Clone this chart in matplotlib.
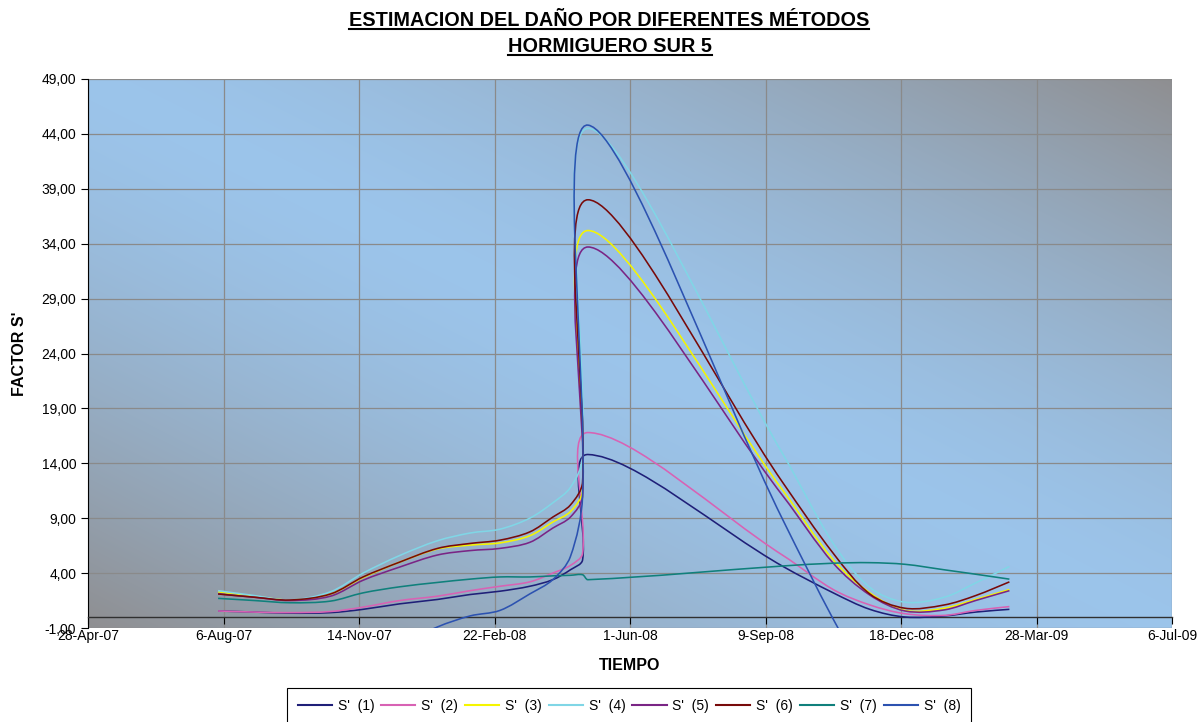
import datetime as dt

import numpy as np
import matplotlib
matplotlib.use("Agg")
import matplotlib.pyplot as plt
import matplotlib.dates as mdates
from matplotlib.path import Path
from matplotlib.patches import PathPatch
from matplotlib.lines import Line2D
from matplotlib.ticker import FuncFormatter

plt.rcParams['font.family'] = ['Liberation Sans', 'DejaVu Sans']

# sampling dates (shared by every series)
DATES = ["2007-08-02", "2007-08-29", "2007-09-24", "2007-10-24", "2007-11-17",
         "2007-12-14", "2008-01-11", "2008-02-04", "2008-02-26", "2008-03-19",
         "2008-04-05", "2008-04-18", "2008-04-27", "2008-05-01", "2008-09-22",
         "2008-10-29", "2008-11-25", "2008-12-21", "2009-01-19", "2009-02-11",
         "2009-03-08"]

S1 = [0.55, 0.45, 0.35, 0.40, 0.70, 1.20, 1.60, 2.05, 2.35, 2.80, 3.40, 4.30, 5.20, 14.8,
      4.60, 2.20, 0.70, 0.00, 0.10, 0.45, 0.70]
S2 = [0.55, 0.45, 0.40, 0.50, 0.90, 1.50, 1.90, 2.40, 2.80, 3.20, 4.00, 4.70, 5.80, 16.8,
      5.60, 2.50, 1.10, 0.30, 0.15, 0.60, 0.95]
S3 = [2.30, 1.90, 1.55, 2.10, 3.60, 5.00, 6.20, 6.55, 6.75, 7.40, 8.65, 9.60, 11.5, 35.2,
      11.5, 5.20, 2.20, 0.60, 0.80, 1.60, 2.50]
S4 = [2.40, 1.95, 1.55, 2.30, 4.00, 5.60, 6.95, 7.65, 8.00, 9.00, 10.4, 11.8, 14.5, 44.5,
      14.8, 6.70, 2.70, 1.35, 1.80, 3.10, 4.60]
S5 = [2.10, 1.80, 1.50, 1.90, 3.35, 4.55, 5.65, 6.05, 6.25, 6.80, 8.10, 9.10, 11.0, 33.7,
      11.0, 4.90, 2.00, 0.55, 0.65, 1.50, 2.40]
S6 = [2.10, 1.80, 1.55, 2.10, 3.65, 5.00, 6.25, 6.70, 7.00, 7.75, 9.10, 10.2, 12.3, 38.0,
      12.2, 5.80, 2.10, 0.80, 1.10, 1.95, 3.20]
S7 = [1.70, 1.50, 1.30, 1.45, 2.20, 2.75, 3.15, 3.45, 3.65, 3.65, 3.75, 3.80, 3.85, 3.40,
      4.65, 4.90, 4.95, 4.80, 4.30, 3.90, 3.45]
S8 = [-14.0, -11.0, -8.5, -6.0, -4.3, -2.6, -0.9, 0.1, 0.6, 2.1, 3.4, 5.5, 11.0, 44.8,
      8.8, -0.2, -6.0, -11.0, -14.0, -15.0, -16.0]

SERIES = [S1, S2, S3, S4, S5, S6, S7, S8]
LABELS = ["S'  (1)", "S'  (2)", "S'  (3)", "S'  (4)",
          "S'  (5)", "S'  (6)", "S'  (7)", "S'  (8)"]
COLORS = ["#1f1f78", "#d862b4", "#f5f500", "#80d6e6",
          "#7a2585", "#780a0a", "#10807c", "#2c52b0"]

X_START = dt.date(2007, 4, 28)
X_END = dt.date(2009, 7, 6)


def smooth_path(ax, x, y):
    """Excel-like smoothed line: Bezier through the points, handles scaled by
    the on-screen chord lengths so short jumps do not overshoot."""
    pts = ax.transData.transform(np.column_stack([x, y]))
    n = len(pts)
    d = np.hypot(*np.diff(pts, axis=0).T)
    tang = np.empty_like(pts)
    tang[1:-1] = pts[2:] - pts[:-2]
    tang[0] = pts[1] - pts[0]
    tang[-1] = pts[-1] - pts[-2]
    verts = [pts[0]]
    codes = [Path.MOVETO]
    for i in range(n - 1):
        dp = d[i - 1] if i > 0 else d[i]
        dn = d[i + 1] if i < n - 2 else d[i]
        c1 = pts[i] + tang[i] * d[i] / (3.0 * (dp + d[i]))
        c2 = pts[i + 1] - tang[i + 1] * d[i] / (3.0 * (d[i] + dn))
        verts += [c1, c2, pts[i + 1]]
        codes += [Path.CURVE4] * 3
    verts = ax.transData.inverted().transform(np.array(verts))
    return Path(verts, codes)


fig = plt.figure(figsize=(11.98, 7.22), dpi=100)
ax = fig.add_axes([88 / 1198, 94 / 722, 1084 / 1198, 549 / 722])

# plot-area gradient: grey in bottom-left / top-right corners, light blue across the middle
gx, gy = np.meshgrid(np.linspace(0, 1, 400), np.linspace(0, 1, 200))
t = np.abs(gx + gy - 1.0) ** 1.5
blue = np.array([0.61, 0.77, 0.92])
grey = np.array([0.56, 0.56, 0.57])
img = blue + (grey - blue) * t[..., None]
ax.imshow(img, extent=[0, 1, 0, 1], transform=ax.transAxes, origin="lower",
          aspect="auto", zorder=0, interpolation="bilinear")
ax.set_xlim(mdates.date2num(X_START), mdates.date2num(X_END))
ax.set_ylim(-1, 49)

xnum = mdates.date2num([dt.date.fromisoformat(d) for d in DATES])
for vals, col in zip(SERIES, COLORS):
    ax.add_patch(PathPatch(smooth_path(ax, xnum, np.array(vals)), fill=False,
                           edgecolor=col, lw=1.15, zorder=3))

xticks = [mdates.date2num(X_START + dt.timedelta(days=100 * k)) for k in range(9)]
ax.set_xticks(xticks)
ax.xaxis.set_major_formatter(FuncFormatter(
    lambda v, _: (lambda d: f"{d.day}-{d.strftime('%b-%y')}")(mdates.num2date(v))))
ax.set_yticks(np.arange(-1, 50, 5))
ax.yaxis.set_major_formatter(FuncFormatter(lambda v, _: f"{v:.2f}".replace(".", ",")))
ax.tick_params(axis="both", labelsize=10, direction="out", length=5, width=0.8)

ax.grid(True, color="#8a8a8a", lw=0.9)
for s in ("top", "right"):
    ax.spines[s].set_visible(False)
ax.spines["bottom"].set_position(("data", 0))
ax.spines["bottom"].set_color("#303030")
ax.spines["bottom"].set_linewidth(1.0)
ax.spines["left"].set_color("black")

fig.text(630 / 1198, 1 - 665 / 722, "TIEMPO", ha="center", va="center",
         fontsize=11.5, fontweight="bold")
fig.text(20 / 1198, 1 - 354 / 722, "FACTOR S'", ha="center", va="center",
         rotation=90, fontsize=11.5, fontweight="bold")

t1 = fig.text(609 / 1198, 1 - 20 / 722, "ESTIMACION DEL DAÑO POR DIFERENTES MÉTODOS",
              ha="center", va="center", fontsize=14.3, fontweight="bold")
t2 = fig.text(610 / 1198, 1 - 46 / 722, "HORMIGUERO SUR 5",
              ha="center", va="center", fontsize=14.3, fontweight="bold")

handles = [Line2D([], [], color=c, lw=1.5) for c in COLORS]
leg = fig.legend(handles, LABELS, ncol=8, loc="upper center",
                 bbox_to_anchor=(629 / 1198, 1 - 688 / 722), frameon=True,
                 fancybox=False, edgecolor="black", framealpha=1, fontsize=10,
                 handlelength=2.45, handletextpad=0.43, columnspacing=0.5,
                 borderpad=0.8, borderaxespad=0)
leg.get_frame().set_linewidth(0.8)

# underline the title lines
fig.canvas.draw()
W, H = fig.canvas.get_width_height()
for txt in (t1, t2):
    bb = txt.get_window_extent()
    y = (bb.y0 + 1) / H
    fig.add_artist(Line2D([bb.x0 / W, bb.x1 / W], [y, y], transform=fig.transFigure,
                          color="black", lw=1.5))

fig.savefig("out.png", dpi=100)
